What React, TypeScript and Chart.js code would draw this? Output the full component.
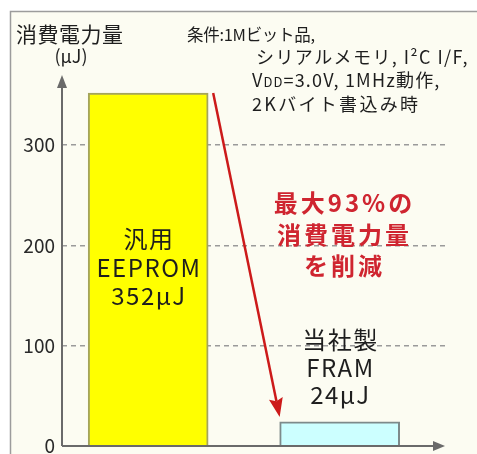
import React, { useEffect, useRef } from "react";
import { Chart, registerables } from "chart.js";

Chart.register(...registerables);

// ---- data ----
const categories = ["EEPROM", "FRAM"];
const energyUJ = [352, 24];
const barHeadings = ["汎用", "当社製"];
const yTickValues = [0, 100, 200, 300];
const yAxisMax = 367;
const yTitleLines = ["消費電力量", "(μJ)"];
const conditionLines = ["条件:1Mビット品,", "シリアルメモリ, I²C I/F,", "=3.0V, 1MHz動作,", "2Kバイト書込み時"];
const calloutLines = ["最大93%の", "消費電力量", "を削減"];

// ---- styles ----
const FONT = '"Noto Sans CJK JP", "Noto Sans", sans-serif';
const barFill = ["#ffff00", "#ccffff"];
const barEdge = ["#a4a45c", "#7d8a8a"];
const CREAM = "#fcfcf2";
const AXIS = "#6a6a6a";
const RED_TEXT = "#cf2530";
const RED_ARROW = "#cc1a1a";

function txt(ctx: CanvasRenderingContext2D, s: string, x: number, y: number, size: number, opts: any = {}) {
  ctx.save();
  ctx.font = `${opts.bold ? "bold " : ""}${size}px ${FONT}`;
  ctx.fillStyle = opts.color || "#1e1e1e";
  ctx.textBaseline = "middle";
  ctx.textAlign = opts.align || "left";
  (ctx as any).letterSpacing = `${opts.ls || 0}px`;
  const w = ctx.measureText(s).width;
  const dx = opts.align === "center" ? (opts.ls || 0) / 2 : 0;
  ctx.fillText(s, x + dx, y);
  ctx.restore();
  return w;
}

const decor = {
  id: "decor",
  beforeDraw(chart: any) {
    const ctx = chart.ctx as CanvasRenderingContext2D;
    const W = chart.width, H = chart.height;
    ctx.save();
    ctx.fillStyle = "#ffffff";
    ctx.fillRect(0, 0, W, H);
    ctx.fillStyle = CREAM;
    ctx.fillRect(10, 11, W - 10, H - 11);
    ctx.strokeStyle = "#9c9c9c";
    ctx.lineWidth = 1.5;
    ctx.beginPath();
    ctx.moveTo(10.5, H);
    ctx.lineTo(10.5, 11.5);
    ctx.lineTo(W, 11.5);
    ctx.stroke();
    ctx.restore();
  },
  afterDraw(chart: any) {
    const ctx = chart.ctx as CanvasRenderingContext2D;
    const { left, right, top, bottom } = chart.chartArea;
    const ys = chart.scales.y;

    // axes with arrows
    ctx.save();
    ctx.strokeStyle = AXIS;
    ctx.fillStyle = AXIS;
    ctx.lineWidth = 2;
    ctx.beginPath();
    ctx.moveTo(left, bottom);
    ctx.lineTo(left, top + 6);
    ctx.moveTo(left, bottom);
    ctx.lineTo(right - 6, bottom);
    ctx.stroke();
    ctx.beginPath();
    ctx.moveTo(left, top - 3);
    ctx.lineTo(left - 5, top + 10);
    ctx.lineTo(left + 5, top + 10);
    ctx.closePath();
    ctx.fill();
    ctx.beginPath();
    ctx.moveTo(right, bottom);
    ctx.lineTo(right - 12, bottom - 5);
    ctx.lineTo(right - 12, bottom + 5);
    ctx.closePath();
    ctx.fill();
    ctx.restore();

    // red arrow from bar 1 top-right to bar 2 top-left
    const meta = chart.getDatasetMeta(0);
    const b0 = meta.data[0], b1 = meta.data[1];
    const sx = b0.x + b0.width / 2 + 5, sy = ys.getPixelForValue(energyUJ[0]);
    const ex = b1.x - b1.width / 2, ey = ys.getPixelForValue(energyUJ[1]) - 5;
    const ang = Math.atan2(ey - sy, ex - sx);
    const hl = 19, hw = 7;
    const bx = ex - hl * Math.cos(ang), by = ey - hl * Math.sin(ang);
    ctx.save();
    ctx.strokeStyle = RED_ARROW;
    ctx.fillStyle = RED_ARROW;
    ctx.lineWidth = 2.5;
    ctx.beginPath();
    ctx.moveTo(sx, sy);
    ctx.lineTo(bx + 3 * Math.cos(ang), by + 3 * Math.sin(ang));
    ctx.stroke();
    ctx.beginPath();
    ctx.moveTo(ex, ey);
    ctx.lineTo(bx - hw * Math.sin(ang), by + hw * Math.cos(ang));
    ctx.lineTo(bx + 3 * Math.cos(ang), by + 3 * Math.sin(ang));
    ctx.lineTo(bx + hw * Math.sin(ang), by - hw * Math.cos(ang));
    ctx.closePath();
    ctx.fill();
    ctx.restore();

    // y title
    txt(ctx, yTitleLines[0], 16, 34, 21, { ls: 0.5 });
    txt(ctx, yTitleLines[1], 71, 56, 18, { align: "center" });

    // conditions
    txt(ctx, conditionLines[0], 187, 35, 16.5, { ls: -0.3 });
    txt(ctx, conditionLines[1], 256, 57, 18, { ls: 1.4 });
    const w = txt(ctx, "V", 252, 80, 18, { ls: 1.2 });
    const w2 = txt(ctx, "DD", 252 + w, 82, 13, { ls: 1 });
    txt(ctx, conditionLines[2], 252 + w + w2, 80, 18, { ls: 1.2 });
    txt(ctx, conditionLines[3], 252, 104, 18, { ls: 2.3 });

    // callout
    calloutLines.forEach((s, i) => txt(ctx, s, 343, 203 + i * 31.5, 24, { bold: true, color: RED_TEXT, ls: 3, align: "center" }));

    // bar labels
    const lines0 = [barHeadings[0], categories[0], `${energyUJ[0]}μJ`];
    const mid0 = (ys.getPixelForValue(energyUJ[0]) + bottom) / 2;
    lines0.forEach((s, i) => txt(ctx, s, b0.x, mid0 + (i - 1) * 28.5 - 2, 24, { align: "center", ls: 1.5 }));
    const lines1 = [barHeadings[1], categories[1], `${energyUJ[1]}μJ`];
    const top1 = ys.getPixelForValue(energyUJ[1]);
    lines1.forEach((s, i) => txt(ctx, s, b1.x, top1 - 27 - (2 - i) * 27.5, 24, { align: "center", ls: 1.5 }));
  },
};

export default function App() {
  const ref = useRef<HTMLCanvasElement>(null);
  useEffect(() => {
    document.body.style.margin = "0";
    const chart = new Chart(ref.current!, {
      type: "bar",
      data: {
        datasets: [
          {
            data: categories.map((c, i) => ({ x: i, y: energyUJ[i] })),
            backgroundColor: barFill,
            borderColor: barEdge,
            borderWidth: 2,
            barThickness: 120,
          },
        ],
      },
      options: {
        responsive: false,
        animation: false,
        layout: { padding: { top: 78, bottom: 8, left: 0, right: 32 } },
        plugins: { legend: { display: false }, tooltip: { enabled: false } },
        scales: {
          x: { type: "linear", min: -0.45, max: 1.55, offset: false, display: false },
          y: {
            min: 0,
            max: yAxisMax,
            afterBuildTicks: (s: any) => {
              s.ticks = yTickValues.map((v) => ({ value: v }));
            },
            afterFit: (s: any) => {
              s.width = 62;
              s.paddingTop = 0;
              s.paddingBottom = 0;
            },
            ticks: { padding: 7, color: "#2a2a2a", font: { size: 19, family: FONT } },
            grid: {
              drawTicks: false,
              lineWidth: 1.5,
              color: (c: any) => (c.tick && c.tick.value === 0 ? "rgba(0,0,0,0)" : "#9a9a9a"),
            },
            border: { display: false, dash: [5, 4] },
          },
        },
      },
      plugins: [decor],
    });
    return () => chart.destroy();
  }, []);
  return (
    <div style={{ position: "absolute", left: 0, top: 0 }}>
      <canvas ref={ref} width={477} height={454} style={{ width: 477, height: 454 }} />
    </div>
  );
}
